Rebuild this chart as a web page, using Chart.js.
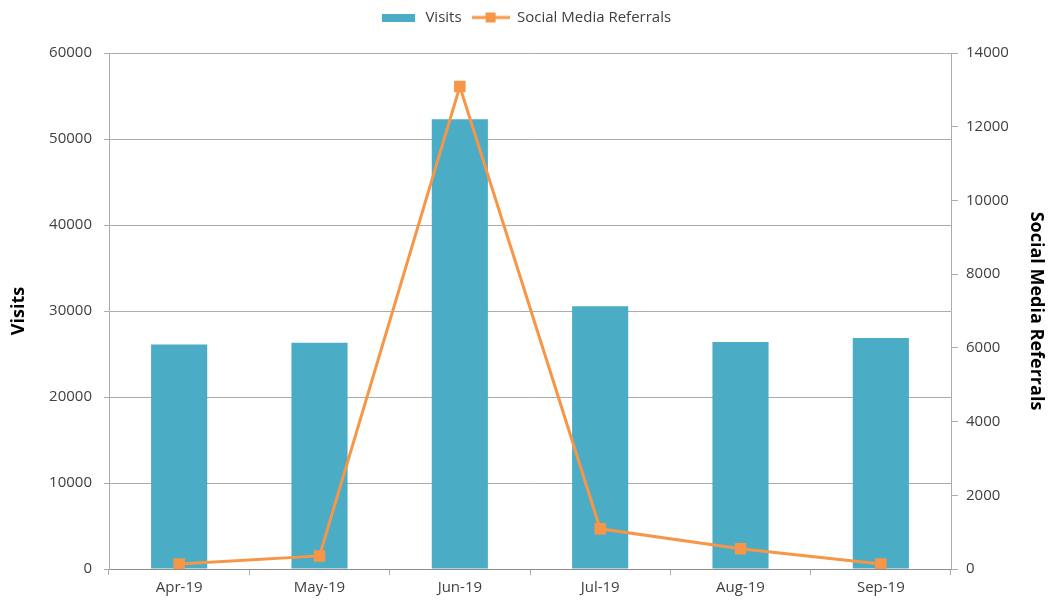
<!DOCTYPE html>
<html>
<head>
<meta charset="utf-8">
<script src="https://cdn.jsdelivr.net/npm/chart.js@4/dist/chart.umd.min.js"></script>
<style>
  html, body { margin: 0; padding: 0; background: #ffffff; }
  #wrap { width: 1051px; height: 606px; position: relative; }
</style>
</head>
<body>
<div id="wrap"><canvas id="c" width="1051" height="606"></canvas></div>
<script>
const categories = ["Apr-19", "May-19", "Jun-19", "Jul-19", "Aug-19", "Sep-19"];
const visits = [26100, 26300, 52300, 30550, 26400, 26850];
const referrals = [135, 355, 13090, 1090, 550, 135];
const visitsTicks = [0, 10000, 20000, 30000, 40000, 50000, 60000];
const referralTicks = [0, 2000, 4000, 6000, 8000, 10000, 12000, 14000];

const BAR = "#4bacc6";
const ORANGE = "#f79646";
const GRID = "#ababab";
const FONT = "'Open Sans', 'Liberation Sans', sans-serif";

function barSwatch() {
  const c = document.createElement("canvas");
  c.width = 33; c.height = 8;
  const g = c.getContext("2d");
  g.fillStyle = BAR; g.fillRect(0, 0, 33, 8);
  return c;
}
function lineSwatch() {
  const c = document.createElement("canvas");
  c.width = 38; c.height = 12;
  const g = c.getContext("2d");
  g.strokeStyle = ORANGE; g.lineWidth = 3;
  g.beginPath(); g.moveTo(0, 6); g.lineTo(38, 6); g.stroke();
  g.fillStyle = ORANGE; g.fillRect(14, 1, 10, 10);
  return c;
}

const legendGap = {
  id: "legendGap",
  afterInit(chart) {
    const lg = chart.legend;
    if (lg && !lg._gapWrapped) {
      const orig = lg.fit.bind(lg);
      lg.fit = function() { orig(); this.height += 18; };
      lg._gapWrapped = true;
    }
  }
};

const ctx = document.getElementById("c").getContext("2d");
new Chart(ctx, {
  data: {
    labels: categories,
    datasets: [
      {
        type: "bar",
        label: "Visits",
        data: visits,
        yAxisID: "y",
        backgroundColor: BAR,
        borderWidth: 0,
        barPercentage: 0.4,
        categoryPercentage: 1.0,
        order: 2
      },
      {
        type: "line",
        label: "Social Media Referrals",
        data: referrals,
        yAxisID: "y1",
        borderColor: ORANGE,
        backgroundColor: ORANGE,
        borderWidth: 3,
        pointStyle: "rect",
        pointRadius: 6,
        pointHoverRadius: 6,
        pointBackgroundColor: ORANGE,
        pointBorderColor: ORANGE,
        tension: 0,
        order: 1
      }
    ]
  },
  plugins: [legendGap],
  options: {
    responsive: false,
    animation: false,
    devicePixelRatio: 1,
    layout: { padding: { top: 0, left: 0, right: 0, bottom: 0 } },
    plugins: {
      tooltip: { enabled: false },
      legend: {
        position: "top",
        align: "center",
        labels: {
          font: { family: FONT, size: 15 },
          color: "#404040",
          usePointStyle: true,
          pointStyleWidth: 38,
          padding: 10,
          generateLabels: function(chart) {
            return chart.data.datasets.map(function(ds, i) {
              return {
                text: ds.label,
                datasetIndex: i,
                pointStyle: i === 0 ? barSwatch() : lineSwatch(),
                fillStyle: i === 0 ? BAR : ORANGE,
                strokeStyle: i === 0 ? BAR : ORANGE,
                lineWidth: 0,
                hidden: false,
                fontColor: "#404040"
              };
            });
          }
        }
      }
    },
    scales: {
      x: {
        type: "category",
        offset: true,
        grid: {
          display: true,
          offset: true,
          drawOnChartArea: false,
          drawTicks: true,
          tickLength: 6,
          color: GRID
        },
        border: { display: true, color: "#8c8c8c", width: 1 },
        ticks: {
          font: { family: FONT, size: 15 },
          color: "#404040",
          padding: 4,
          maxRotation: 0
        },
        afterFit: function(s) { s.height = 37; }
      },
      y: {
        type: "linear",
        position: "left",
        min: 0,
        max: 60000,
        afterBuildTicks: function(s) { s.ticks = visitsTicks.map(v => ({ value: v })); },
        grid: { color: GRID, lineWidth: 1, tickLength: 5, drawTicks: true },
        border: { display: true, color: GRID },
        ticks: {
          font: { family: FONT, size: 15 },
          color: "#404040",
          padding: 12,
          callback: v => String(v)
        },
        title: {
          display: true,
          text: "Visits",
          font: { family: FONT, size: 18, weight: "bold" },
          color: "#000000",
          padding: { top: 8, bottom: 0 }
        },
        afterFit: function(s) { s.width = 109; }
      },
      y1: {
        type: "linear",
        position: "right",
        min: 0,
        max: 14000,
        afterBuildTicks: function(s) { s.ticks = referralTicks.map(v => ({ value: v })); },
        grid: { drawOnChartArea: false, color: GRID, tickLength: 7, drawTicks: true },
        border: { display: true, color: GRID },
        ticks: {
          font: { family: FONT, size: 15 },
          color: "#404040",
          padding: 8,
          callback: v => String(v)
        },
        title: {
          display: true,
          text: "Social Media Referrals",
          font: { family: FONT, size: 18, weight: "bold" },
          color: "#000000",
          padding: { top: 4, bottom: 0 }
        },
        afterFit: function(s) { s.width = 100; }
      }
    }
  }
});
</script>
</body>
</html>
